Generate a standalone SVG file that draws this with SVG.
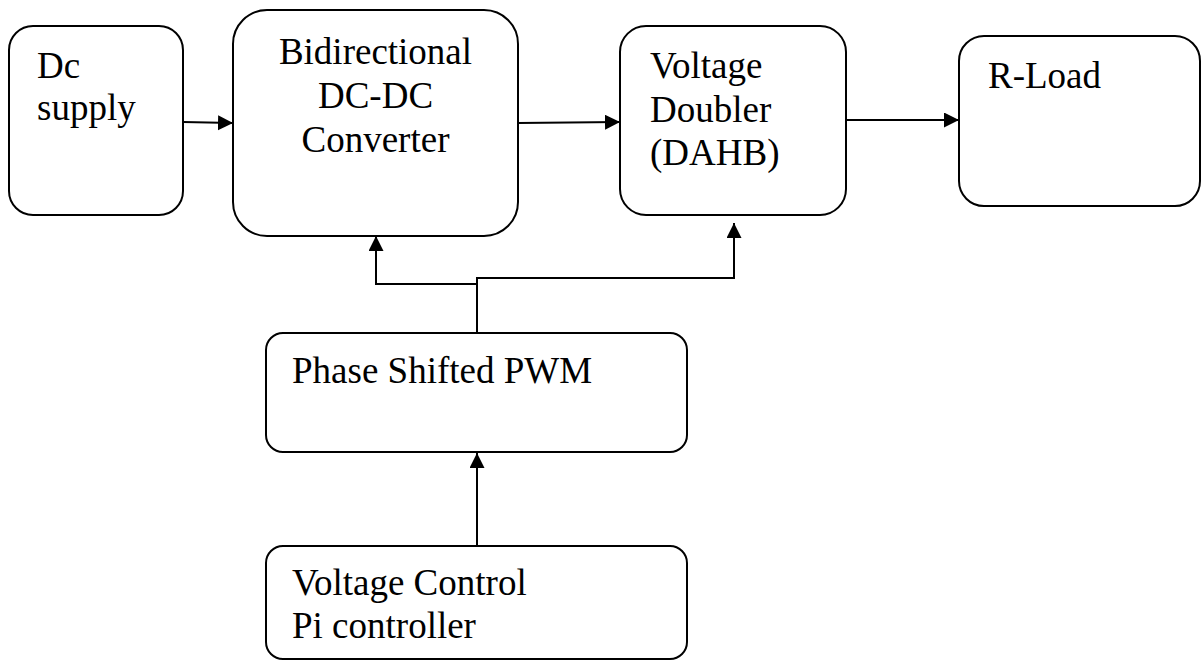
<svg xmlns="http://www.w3.org/2000/svg" width="1202" height="661" viewBox="0 0 1202 661">
<style>
.box{fill:#fff;stroke:#000;stroke-width:2}
.t{font-family:"Liberation Serif","Times New Roman",serif;font-size:37px;fill:#000}
.c{fill:none;stroke:#000;stroke-width:2}
</style>
<defs>
<marker id="ah" markerUnits="userSpaceOnUse" markerWidth="16" markerHeight="16" refX="15" refY="7.5" orient="auto">
<path d="M0,0 L15,7.5 L0,15 z" fill="#000"/>
</marker>
</defs>
<rect width="1202" height="661" fill="#fff"/>
<g id="dc-supply">
<rect class="box" x="9" y="26" width="174" height="189" rx="24" ry="24"/>
<text class="t" x="37" y="78">Dc</text>
<text class="t" x="37" y="120">supply</text>
</g>
<g id="bidirectional">
<rect class="box" x="233" y="10" width="285" height="226" rx="34" ry="34"/>
<text class="t" x="375.5" y="64" text-anchor="middle">Bidirectional</text>
<text class="t" x="375.5" y="108" text-anchor="middle">DC-DC</text>
<text class="t" x="375.5" y="152" text-anchor="middle">Converter</text>
</g>
<g id="voltage-doubler">
<rect class="box" x="620" y="26" width="226" height="189" rx="26" ry="26"/>
<text class="t" x="650" y="78">Voltage</text>
<text class="t" x="650" y="122">Doubler</text>
<text class="t" x="650" y="165">(DAHB)</text>
</g>
<g id="r-load">
<rect class="box" x="959" y="36" width="241" height="170" rx="25" ry="25"/>
<text class="t" x="988" y="88">R-Load</text>
</g>
<g id="pwm">
<rect class="box" x="266" y="333" width="421" height="119" rx="17" ry="17"/>
<text class="t" x="292" y="383">Phase Shifted PWM</text>
</g>
<g id="pi-controller">
<rect class="box" x="266" y="546" width="421" height="113" rx="17" ry="17"/>
<text class="t" x="292" y="595">Voltage Control</text>
<text class="t" x="292" y="638">Pi controller</text>
</g>
<g id="connectors">
<path class="c" d="M183,122 L233,123" marker-end="url(#ah)"/>
<path class="c" d="M518,123 L620,122" marker-end="url(#ah)"/>
<path class="c" d="M846,120 L959,120" marker-end="url(#ah)"/>
<path class="c" d="M477,333 L477,284 L376,284 L376,236" marker-end="url(#ah)"/>
<path class="c" d="M477,284 L477,278 L734,278 L734,223" marker-end="url(#ah)"/>
<path class="c" d="M477,546 L477,453" marker-end="url(#ah)"/>
</g>
</svg>
